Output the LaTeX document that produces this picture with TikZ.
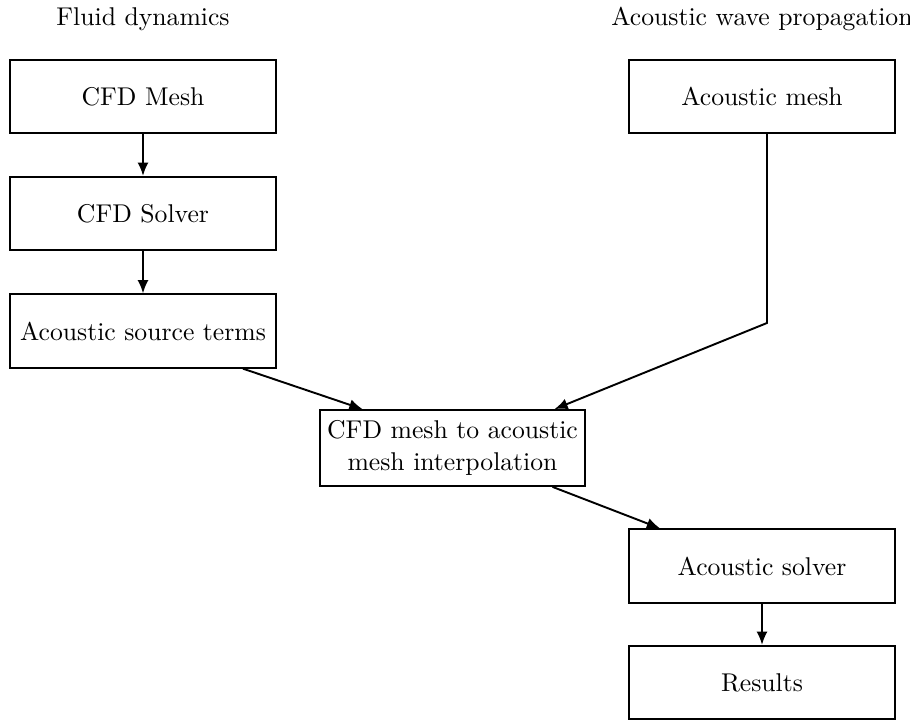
\documentclass[tikz,border=0pt]{standalone}
\usetikzlibrary{arrows.meta}
\begin{document}
\begin{tikzpicture}[x=0.4167pt,y=-0.4167pt,
  box/.style={draw,line width=0.8pt,minimum width=110.8pt,minimum height=30.6pt,inner sep=0pt,align=center,font=\fontsize{10.7}{13.5}\selectfont},
  lbl/.style={font=\fontsize{10.7}{13.5}\selectfont},
  conn/.style={line width=0.8pt,-{Latex[length=5.5pt,width=4.6pt]}}]
\useasboundingbox (0,0) rectangle (910,720);
\node[lbl] (fd) at (143,19) {Fluid dynamics};
\node[lbl] (awp) at (762,19) {Acoustic wave propagation};
\node[box] (cfdmesh) at (143,96.5) {CFD Mesh};
\node[box] (cfdsolver) at (143,213.5) {CFD Solver};
\node[box] (src) at (143,331) {Acoustic source terms};
\node[box] (acmesh) at (762,96.5) {Acoustic mesh};
\node[box,minimum height=31.6pt] (interp) at (452.5,448) {CFD mesh to acoustic\\mesh interpolation};
\node[box] (acsolver) at (762,566) {Acoustic solver};
\node[box] (res) at (762,682.5) {Results};
\coordinate (bend) at (767,323);
\draw[conn] (cfdmesh) -- (cfdsolver);
\draw[conn] (cfdsolver) -- (src);
\draw[conn] ([xshift=100*0.4167pt]src.south) -- ([xshift=-90*0.4167pt]interp.north);
\draw[conn] ([xshift=5*0.4167pt]acmesh.south) -- (bend) -- ([xshift=102*0.4167pt]interp.north);
\draw[conn] ([xshift=100*0.4167pt]interp.south) -- ([xshift=-102*0.4167pt]acsolver.north);
\draw[conn] (acsolver) -- (res);
\end{tikzpicture}
\end{document}
